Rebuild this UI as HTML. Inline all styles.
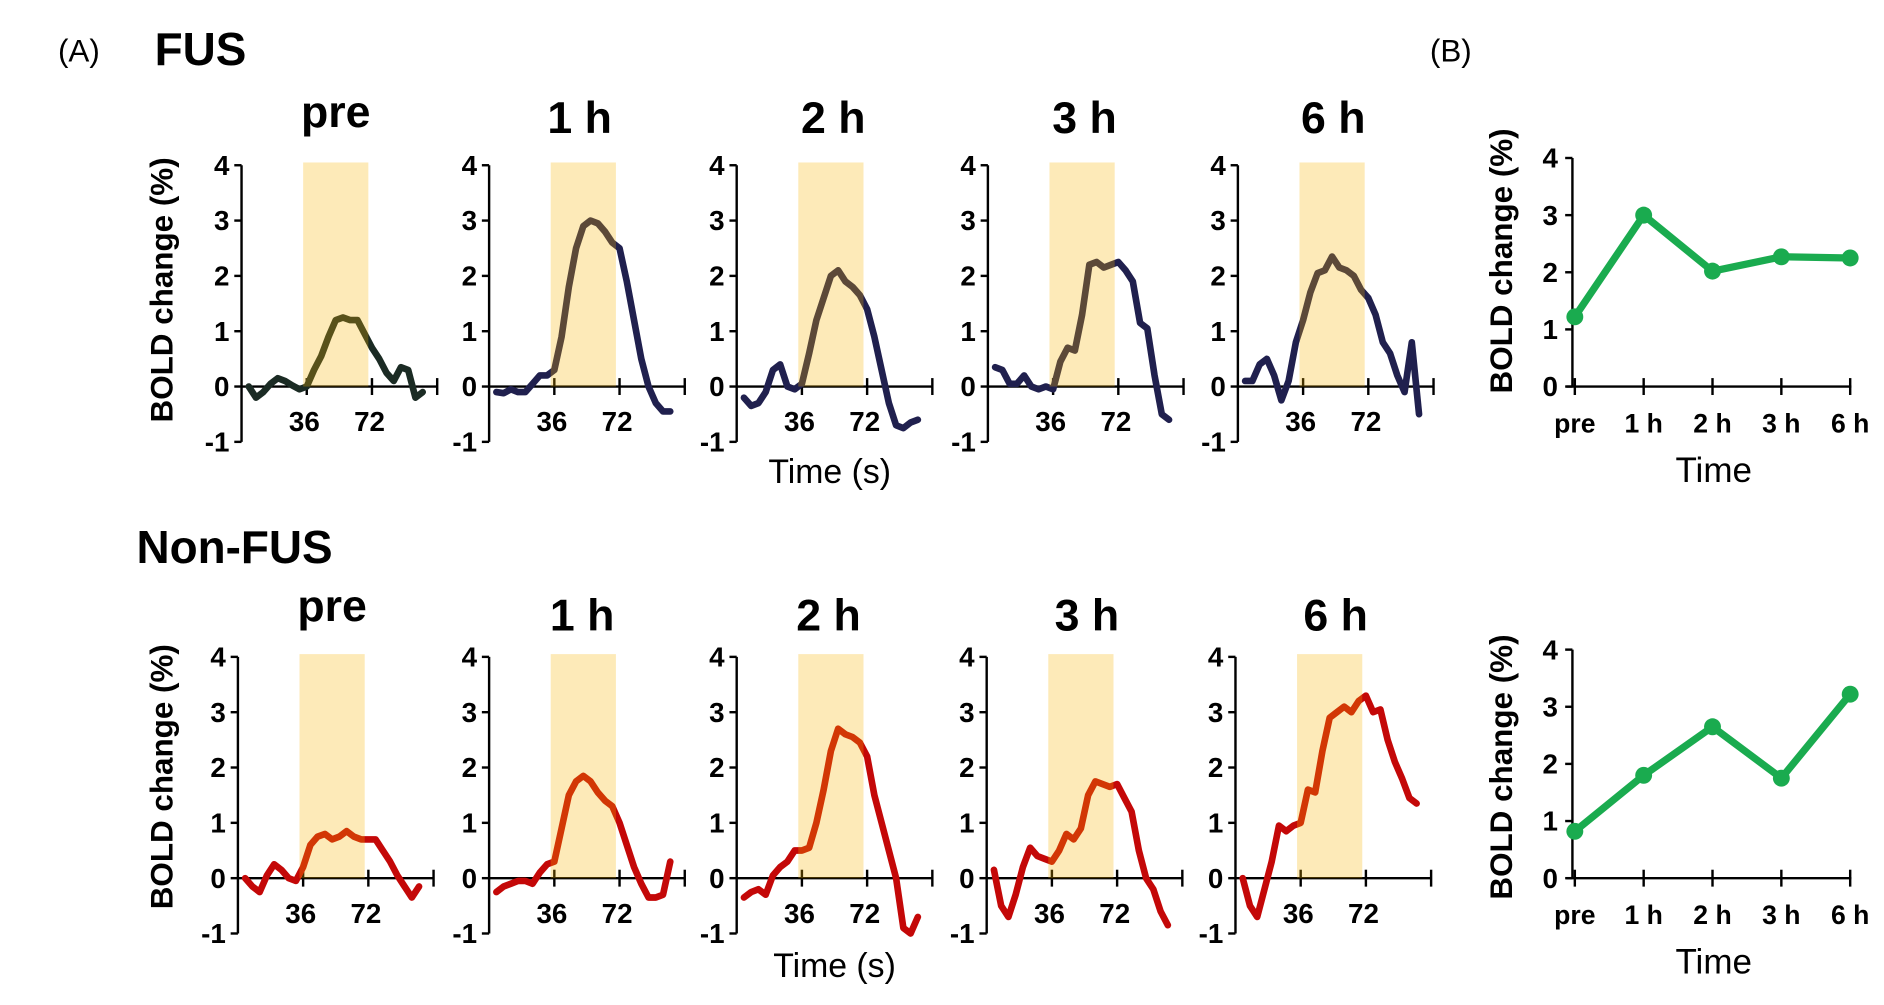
<!DOCTYPE html>
<html><head><meta charset="utf-8">
<style>
html,body{margin:0;padding:0;background:#fff;}
svg{display:block;}
text{font-family:"Liberation Sans",Arial,sans-serif;}
</style></head>
<body>
<svg id="fig" width="1884" height="1005" viewBox="0 0 1560 832" preserveAspectRatio="none" xmlns="http://www.w3.org/2000/svg"></svg>
<script>
// ---- data ----
const times = [4,8,12,16,20,24,28,32,36,40,44,48,52,56,60,64,68,72,76,80,84,88,92,96,100];
const panelLabels = ["pre","1 h","2 h","3 h","6 h"];
const yTicks = [-1,0,1,2,3,4];
const xTickLabels = [36,72];
const fusPre = [0,-0.2,-0.1,0.05,0.15,0.1,0.02,-0.05,0,0.3,0.55,0.9,1.2,1.25,1.2,1.2,0.95,0.7,0.5,0.25,0.1,0.35,0.3,-0.2,-0.1];
const fus1h  = [-0.1,-0.12,-0.05,-0.1,-0.1,0.05,0.2,0.2,0.3,0.9,1.8,2.5,2.9,3.0,2.95,2.8,2.6,2.5,1.9,1.2,0.5,0.0,-0.3,-0.45,-0.45];
const fus2h  = [-0.2,-0.35,-0.3,-0.1,0.3,0.4,0.0,-0.05,0.05,0.6,1.2,1.6,2.0,2.1,1.9,1.8,1.65,1.4,0.9,0.3,-0.3,-0.7,-0.75,-0.65,-0.6];
const fus3h  = [0.35,0.3,0.05,0.05,0.2,0.0,-0.05,0.0,-0.05,0.45,0.7,0.65,1.3,2.2,2.25,2.15,2.2,2.25,2.1,1.9,1.15,1.05,0.2,-0.5,-0.6];
const fus6h  = [0.1,0.1,0.4,0.5,0.2,-0.25,0.1,0.8,1.2,1.7,2.05,2.1,2.35,2.15,2.1,2.0,1.75,1.6,1.3,0.8,0.6,0.2,-0.1,0.8,-0.5];
const nfPre  = [0,-0.15,-0.25,0.05,0.25,0.15,0.0,-0.05,0.2,0.6,0.75,0.8,0.7,0.75,0.85,0.75,0.7,0.7,0.7,0.5,0.3,0.05,-0.15,-0.35,-0.15];
const nf1h   = [-0.25,-0.15,-0.1,-0.05,-0.05,-0.1,0.1,0.25,0.3,0.9,1.5,1.75,1.85,1.75,1.55,1.4,1.3,1.0,0.6,0.2,-0.1,-0.35,-0.35,-0.3,0.3];
const nf2h   = [-0.35,-0.25,-0.2,-0.3,0.05,0.2,0.3,0.5,0.5,0.55,1.0,1.6,2.3,2.7,2.6,2.55,2.45,2.2,1.5,1.0,0.5,0.0,-0.9,-1.0,-0.7];
const nf3h   = [0.15,-0.5,-0.7,-0.3,0.2,0.55,0.4,0.35,0.3,0.5,0.8,0.7,0.9,1.5,1.75,1.7,1.65,1.7,1.45,1.2,0.5,0.0,-0.2,-0.6,-0.85];
const nf6h   = [0,-0.5,-0.7,-0.2,0.3,0.95,0.85,0.95,1.0,1.6,1.55,2.3,2.9,3.0,3.1,3.0,3.2,3.3,3.0,3.05,2.5,2.1,1.8,1.45,1.35];
const bCats = ["pre","1 h","2 h","3 h","6 h"];
const bFus = [1.22,3.0,2.02,2.27,2.25];
const bNonFus = [0.82,1.8,2.65,1.75,3.22];

const NS="http://www.w3.org/2000/svg";
const svg=document.getElementById('fig');
function el(tag,attrs,parent){const e=document.createElementNS(NS,tag);for(const k in attrs)e.setAttribute(k,attrs[k]);(parent||svg).appendChild(e);return e;}
function txt(s,attrs,parent){const e=el('text',attrs,parent);e.textContent=s;return e;}

let t;
t=txt("(A)",{x:48,y:51,"font-size":26});

t=txt("FUS",{x:128,y:54,"font-size":38,"font-weight":"bold"});

t=txt("Non-FUS",{x:113,y:466,"font-size":38,"font-weight":"bold"});

t=txt("(B)",{x:1184,y:51,"font-size":26});


const SCALE=1.5;
function drawPanel(ax,y0,titleX,titleY,label,series,color,name){
  const g=el('g',{});
  
  
  const U=45.8;
  const yS=v=>y0-v*U;
  const xS=tt=>ax+tt*SCALE;
  const tt=txt(label,{x:titleX,y:titleY,"font-size":37,"font-weight":"bold","text-anchor":"middle"},g);
  
  const ya=el('line',{x1:ax,y1:yS(4),x2:ax,y2:yS(-1),stroke:"#000","stroke-width":2},g);
  
  yTicks.forEach(v=>{
    el('line',{x1:ax-6,y1:yS(v),x2:ax,y2:yS(v),stroke:"#000","stroke-width":2},g);
    const l=txt(String(v),{x:ax-10,y:yS(v)+8,"font-size":23,"font-weight":"bold","text-anchor":"end"},g);
    
  });
  const xa=el('line',{x1:ax,y1:y0,x2:xS(108),y2:y0,stroke:"#000","stroke-width":2},g);
  
  [36,72,108].forEach(v=>el('line',{x1:xS(v),y1:y0-7,x2:xS(v),y2:y0+7,stroke:"#000","stroke-width":2},g));
  xTickLabels.forEach(v=>{
    const l=txt(String(v),{x:xS(v)-2,y:y0+37,"font-size":23,"font-weight":"bold","text-anchor":"middle"},g);
    
  });
  const d=series.map((v,i)=>(i?"L":"M")+xS(times[i]).toFixed(1)+","+yS(v).toFixed(1)).join(" ");
  const p=el('path',{d:d,fill:"none",stroke:color,"stroke-width":5.5,"stroke-linejoin":"round","stroke-linecap":"round"},g);
  
  const r=el('rect',{x:xS(36)-3,y:yS(4.05),width:xS(72)-xS(36),height:yS(0)-yS(4.05),fill:"rgb(248,179,0)","fill-opacity":0.28},g);
  
}

const topAx=[200,405,610,818,1025];
const topTitleX=[278,480,690,898,1104];
const topSeries=[fusPre,fus1h,fus2h,fus3h,fus6h];
topAx.forEach((ax,i)=>drawPanel(ax,320,topTitleX[i],i?110:105,panelLabels[i],topSeries[i],i?"#20204e":"#1b2b24","fus-panel-"+i));
const botAx=[197,405,610,817,1023];
const botTitleX=[275,482,686,900,1106];
const botSeries=[nfPre,nf1h,nf2h,nf3h,nf6h];
botAx.forEach((ax,i)=>drawPanel(ax,727,botTitleX[i],i?522:514,panelLabels[i],botSeries[i],"#c40808","non-fus-panel-"+i));

function yLabel(x,y,name){
  const l=txt("BOLD change (%)",{x:0,y:0,"font-size":26,"font-weight":"bold","text-anchor":"middle",transform:`translate(${x},${y}) rotate(-90)`});
  
}
yLabel(143,240,'fus-y-axis-title');
yLabel(143,643,'non-fus-y-axis-title');
yLabel(1252,216,'b-top-y-axis-title');
yLabel(1252,635,'b-bottom-y-axis-title');
t=txt("Time (s)",{x:687,y:400,"font-size":28,"text-anchor":"middle"});

t=txt("Time (s)",{x:691,y:809,"font-size":28,"text-anchor":"middle"});


function drawB(y0,vals,name){
  const g=el('g',{});
  
  
  const ax=1302,U=47.3,step=57;
  const yS=v=>y0-v*U, xS=i=>ax+2+i*step;
  el('line',{x1:ax,y1:yS(4),x2:ax,y2:y0,stroke:"#000","stroke-width":2},g);
  [0,1,2,3,4].forEach(v=>{
    el('line',{x1:ax-6,y1:yS(v),x2:ax,y2:yS(v),stroke:"#000","stroke-width":2},g);
    const l=txt(String(v),{x:ax-12,y:yS(v)+8,"font-size":23,"font-weight":"bold","text-anchor":"end"},g);
    
  });
  el('line',{x1:ax-5,y1:y0,x2:xS(4)+1,y2:y0,stroke:"#000","stroke-width":2},g);
  bCats.forEach((c,i)=>{
    el('line',{x1:xS(i),y1:y0-7,x2:xS(i),y2:y0+7,stroke:"#000","stroke-width":2},g);
    const l=txt(c,{x:xS(i),y:y0+38,"font-size":22,"font-weight":"bold","text-anchor":"middle"},g);
    
  });
  const d=vals.map((v,i)=>(i?"L":"M")+xS(i)+","+yS(v).toFixed(1)).join(" ");
  const p=el('path',{d:d,fill:"none",stroke:"#1aab4f","stroke-width":6,"stroke-linejoin":"round"},g);
  
  vals.forEach((v,i)=>{
    const c=el('circle',{cx:xS(i),cy:yS(v),r:7,fill:"#1aab4f"},g);
    
  });
  const l=txt("Time",{x:1419,y:y0+79,"font-size":29,"text-anchor":"middle"},g);
  
}
drawB(320,bFus,'b-fus-chart');
drawB(727,bNonFus,'b-non-fus-chart');
</script>
</body></html>
